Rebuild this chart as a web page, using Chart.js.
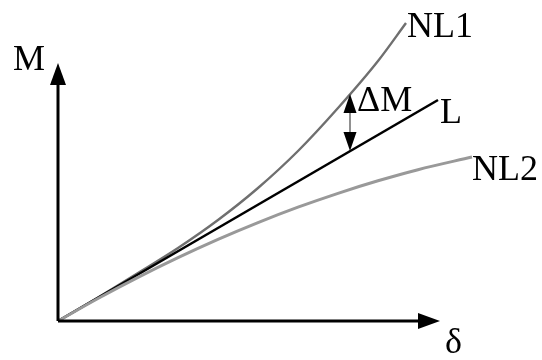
<!DOCTYPE html>
<html>
<head>
<meta charset="utf-8">
<script src="https://cdn.jsdelivr.net/npm/chart.js@4/dist/chart.umd.min.js"></script>
<style>
  html, body { margin: 0; padding: 0; background: #fff; }
  #wrap { width: 542px; height: 360px; }
</style>
</head>
<body>
<div id="wrap"><canvas id="mdChart" width="542" height="360"></canvas></div>
<script>
// deflection (delta) values shared by the curves
const nl1X = [0, 40, 80, 120, 160, 200, 240, 280, 320, 348];
const nl1Y = [0, 23.5, 48, 73, 101, 133, 170, 213, 260, 298];
const nl2X = [0, 40, 80, 120, 160, 200, 240, 280, 320, 360, 414];
const nl2Y = [0, 22.5, 43.6, 63.3, 81.6, 98.4, 113.8, 127.7, 140.2, 151.3, 164];
const linX = [0, 380];
const linY = [0, 221];

// axis extents (line end, arrow tip)
const xAxisEnd = 360, xAxisTip = 382;
const yAxisEnd = 236, yAxisTip = 258;

// the ΔM gap between L and NL1
const gapX = 292;
const gapY = [170, 227];

const toPts = (xs, ys) => xs.map((x, i) => ({ x: x, y: ys[i] }));

const serif = '36px "Liberation Serif", serif';

const arrowsAndLabels = {
  id: 'arrowsAndLabels',
  afterDatasetsDraw(chart) {
    const ctx = chart.ctx;
    const sx = chart.scales.x, sy = chart.scales.y;
    const px = v => sx.getPixelForValue(v);
    const py = v => sy.getPixelForValue(v);
    ctx.save();
    ctx.fillStyle = '#000';

    // x axis arrowhead
    ctx.beginPath();
    ctx.moveTo(px(xAxisTip), py(0));
    ctx.lineTo(px(xAxisEnd), py(0) - 8);
    ctx.lineTo(px(xAxisEnd), py(0) + 8);
    ctx.closePath();
    ctx.fill();

    // y axis arrowhead
    ctx.beginPath();
    ctx.moveTo(px(0), py(yAxisTip));
    ctx.lineTo(px(0) - 8, py(yAxisEnd));
    ctx.lineTo(px(0) + 8, py(yAxisEnd));
    ctx.closePath();
    ctx.fill();

    // ΔM double arrow
    const gx = px(gapX), g0 = py(gapY[0]), g1 = py(gapY[1]);
    ctx.strokeStyle = '#555';
    ctx.lineWidth = 1.3;
    ctx.beginPath();
    ctx.moveTo(gx, g0 - 16);
    ctx.lineTo(gx, g1 + 16);
    ctx.stroke();
    ctx.beginPath();
    ctx.moveTo(gx, g1);
    ctx.lineTo(gx - 6.5, g1 + 19);
    ctx.lineTo(gx + 6.5, g1 + 19);
    ctx.closePath();
    ctx.fill();
    ctx.beginPath();
    ctx.moveTo(gx, g0);
    ctx.lineTo(gx - 6.5, g0 - 19);
    ctx.lineTo(gx + 6.5, g0 - 19);
    ctx.closePath();
    ctx.fill();

    // labels
    ctx.font = serif;
    ctx.textBaseline = 'alphabetic';
    ctx.textAlign = 'left';
    ctx.fillText('M', 13, 70);
    ctx.fillText('δ', px(xAxisTip) + 5, py(0) + 32);
    ctx.fillText('NL1', px(nl1X[nl1X.length - 1]) + 1, py(nl1Y[nl1Y.length - 1]) + 14);
    ctx.fillText('L', px(linX[1]) + 2, py(linY[1]) + 23);
    ctx.fillText('NL2', px(nl2X[nl2X.length - 1]), py(nl2Y[nl2Y.length - 1]) + 23);
    ctx.fillText('ΔM', gx + 7, g1 + 17);
    ctx.restore();
  }
};

new Chart(document.getElementById('mdChart'), {
  type: 'line',
  data: {
    datasets: [
      {
        label: 'x axis',
        data: toPts([0, xAxisEnd], [0, 0]),
        borderColor: '#000', borderWidth: 3, pointRadius: 0
      },
      {
        label: 'y axis',
        data: toPts([0, 0], [0, yAxisEnd]),
        borderColor: '#000', borderWidth: 3, pointRadius: 0
      },
      {
        label: 'NL2',
        data: toPts(nl2X, nl2Y),
        borderColor: '#999999', borderWidth: 3, pointRadius: 0,
        cubicInterpolationMode: 'monotone'
      },
      {
        label: 'L',
        data: toPts(linX, linY),
        borderColor: '#000', borderWidth: 2.6, pointRadius: 0
      },
      {
        label: 'NL1',
        data: toPts(nl1X, nl1Y),
        borderColor: '#6f6f6f', borderWidth: 2.4, pointRadius: 0,
        cubicInterpolationMode: 'monotone'
      }
    ]
  },
  options: {
    responsive: false,
    animation: false,
    clip: false,
    layout: { padding: { left: 58, right: 0, top: 0, bottom: 39 } },
    scales: {
      x: { type: 'linear', min: 0, max: 484, display: false },
      y: { type: 'linear', min: 0, max: 321, display: false }
    },
    plugins: {
      legend: { display: false },
      tooltip: { enabled: false }
    }
  },
  plugins: [arrowsAndLabels]
});
</script>
</body>
</html>
